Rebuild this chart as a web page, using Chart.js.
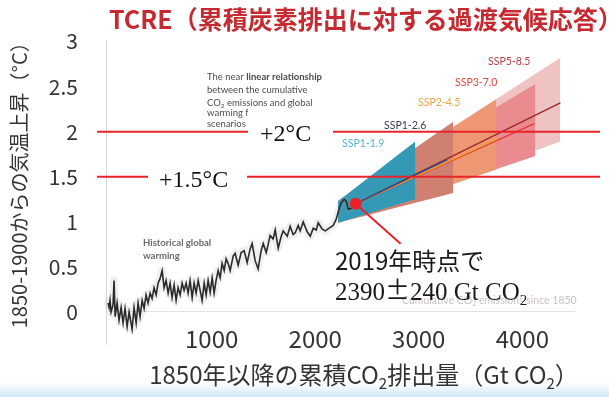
<!DOCTYPE html>
<html>
<head>
<meta charset="utf-8">
<script src="https://cdn.jsdelivr.net/npm/chart.js@4/dist/chart.umd.min.js"></script>
<style>
  html, body { margin: 0; padding: 0; background: #fff; }
  #c { display: block; }
</style>
</head>
<body>
<canvas id="c" width="609" height="397"></canvas>
<script>
// Observed warming against cumulative CO2 emissions since 1850
const histCum = [0,10,19,29,48,58,68,87,106,126,145,164,184,203,232,251,271,290,309,329,348,367,386,406,425,444,464,483,502,522,541,560,580,599,618,638,657,676,696,715,734,754,773,792,812,831,850,870,889,908,928,947,966,986,1005,1024,1043,1063,1082,1101,1121,1140,1159,1179,1208,1227,1256,1285,1314,1343,1372,1391,1420,1449,1478,1498,1527,1546,1565,1594,1614,1643,1672,1691,1730,1758,1787,1807,1836,1855,1884,1923,1952,1981,2010,2029,2068,2097,2135,2174,2203,2232,2251,2280,2300,2319,2348,2390];
const histTemp = [0.10,0.05,0.13,0.00,0.08,0.35,-0.05,0.10,-0.09,0.05,-0.12,0.04,-0.16,0.00,-0.19,0.05,-0.12,0.10,-0.05,0.13,0.04,0.19,0.10,0.21,0.15,0.27,0.19,0.32,0.37,0.46,0.27,0.35,0.21,0.32,0.16,0.30,0.13,0.27,0.19,0.32,0.24,0.32,0.21,0.35,0.16,0.32,0.21,0.35,0.24,0.13,0.32,0.19,0.35,0.22,0.38,0.21,0.35,0.46,0.38,0.54,0.46,0.59,0.54,0.46,0.62,0.65,0.52,0.66,0.68,0.55,0.70,0.76,0.57,0.48,0.68,0.76,0.66,0.75,0.85,0.81,0.91,0.71,0.84,0.90,0.84,0.95,0.86,0.88,0.96,0.90,1.00,0.89,0.84,0.93,0.91,0.99,0.92,0.90,0.93,0.96,1.03,1.15,1.21,1.25,1.23,1.14,1.15,1.20];

// Scenario plumes (cumulative emissions to 2100 and warming range)
const scenarioNames = ['SSP1-1.9', 'SSP1-2.6', 'SSP2-4.5', 'SSP3-7.0', 'SSP5-8.5'];
const plumeStartCum = 2220;
const plumeStartTop = 1.23;
const plumeStartBottom = 0.99;
const plumeEndCum = [2966, 3333, 3749, 4126, 4367];
const plumeEndTop = [1.89, 2.11, 2.36, 2.53, 2.82];
const plumeEndBottom = [1.25, 1.32, 1.58, 1.73, 1.89];
// Central estimates (no separate line for SSP1-1.9)
const medianEndCum = [null, 3275, 3758, 4116, 4367];
const medianEndTemp = [null, 1.69, 1.92, 2.09, 2.32];

// 2019 status
const point2019Cum = 2390;
const point2019Temp = 1.2;

// Warming levels marked across the plot
const thresholds = [2, 1.5];
const thresholdLabels = ['+2°C', '+1.5°C'];

const xTicks = [1000, 2000, 3000, 4000];
const yTicks = [0, 0.5, 1, 1.5, 2, 2.5, 3];

const JP = '"Noto Sans CJK JP", "Noto Sans", sans-serif';
const SERIF = '"Liberation Serif", "DejaVu Serif", serif';
const LATO = 'Lato, "Open Sans", sans-serif';

const plumeColors = ['#3399b5', '#cf8070', '#ee9873', '#ea8b8f', '#f0c3c3'];
const medianColors = [null, '#2b4c8c', '#f0a030', '#e53a3a', '#9e2a2b'];
const labelColors = ['#58b4cf', '#3c3c50', '#eba64a', '#e0483f', '#b8413f'];

const datasets = [];
datasets.push({
  label: 'historical', data: histCum.map((v, i) => ({ x: v, y: histTemp[i] })),
  borderColor: '#2b2b2b', borderWidth: 1.6, pointRadius: 0, fill: false, clip: false, order: 0
});
datasets.push({
  label: 'historical band', data: histCum.map((v, i) => ({ x: v, y: histTemp[i] })),
  borderColor: 'rgba(150,150,150,0.14)', borderWidth: 8, borderJoinStyle: 'round', borderCapStyle: 'round',
  pointRadius: 0, fill: false, clip: false, order: 1
});
scenarioNames.forEach((name, i) => {
  if (medianEndCum[i] === null) return;
  datasets.push({
    label: name + ' central',
    data: [{ x: point2019Cum, y: point2019Temp }, { x: medianEndCum[i], y: medianEndTemp[i] }],
    borderColor: medianColors[i], borderWidth: 1.5, pointRadius: 0, fill: false, order: 2 + i
  });
});
scenarioNames.forEach((name, i) => {
  datasets.push({
    label: name + ' upper',
    data: [{ x: plumeStartCum, y: plumeStartTop }, { x: plumeEndCum[i], y: plumeEndTop[i] }],
    borderWidth: 0, pointRadius: 0, backgroundColor: plumeColors[i], fill: '+1', order: 10 + 2 * i
  });
  datasets.push({
    label: name + ' lower',
    data: [{ x: plumeStartCum, y: plumeStartBottom }, { x: plumeEndCum[i], y: plumeEndBottom[i] }],
    borderWidth: 0, pointRadius: 0, fill: false, order: 10 + 2 * i
  });
});

// text made of pieces, some set as subscripts
function drawPieces(c, pieces, x, baseline, align) {
  let total = 0;
  pieces.forEach(p => { c.font = p.font; p.w = c.measureText(p.t).width; total += p.w; });
  let cx = align === 'center' ? x - total / 2 : x;
  c.textAlign = 'left';
  c.textBaseline = 'alphabetic';
  pieces.forEach(p => {
    c.font = p.font;
    c.fillText(p.t, cx, baseline + (p.dy || 0));
    cx += p.w;
  });
}

const decor = {
  id: 'decor',
  beforeDraw(chart) {
    const c = chart.ctx;
    c.save();
    c.fillStyle = '#fff';
    c.fillRect(0, 0, chart.width, chart.height);
    const g = c.createLinearGradient(0, 382, 0, 397);
    g.addColorStop(0, 'rgba(190,220,240,0)');
    g.addColorStop(1, 'rgba(165,208,234,0.55)');
    c.fillStyle = g;
    c.fillRect(0, 382, chart.width, 15);
    c.restore();
  },
  beforeDatasetsDraw(chart) {
    const { ctx: c, chartArea: a, scales: { x, y } } = chart;
    c.save();
    // frame of the inner figure
    c.strokeStyle = '#d6d6d6';
    c.lineWidth = 1;
    c.beginPath();
    c.moveTo(Math.round(a.left) + 0.5, a.top);
    c.lineTo(Math.round(a.left) + 0.5, 345);
    c.stroke();
    c.strokeStyle = '#e3e3e3';
    c.beginPath();
    c.moveTo(x.getPixelForValue(0), Math.round(y.getPixelForValue(0)) - 0.5);
    c.lineTo(x.getPixelForValue(4510), Math.round(y.getPixelForValue(0)) - 0.5);
    c.stroke();

    // explanatory note
    c.fillStyle = '#4d4d4d';
    c.textBaseline = 'middle';
    c.textAlign = 'left';
    c.font = '9.5px ' + LATO;
    c.fillText('The near ', 207, 77);
    const w0 = c.measureText('The near ').width;
    c.font = 'bold 9.5px ' + LATO;
    c.fillText('linear relationship', 207 + w0, 77);
    c.font = '9.5px ' + LATO;
    c.fillText('between the cumulative', 207, 90);
    drawPieces(c, [
      { t: 'CO', font: '9.5px ' + LATO },
      { t: '2', font: '6.5px ' + LATO, dy: 2 },
      { t: ' emissions and global', font: '9.5px ' + LATO }
    ], 207, 105.5, 'left');
    c.textBaseline = 'middle';
    c.font = '9.5px ' + LATO;
    c.fillText('warming for five illustrative', 207, 113);
    c.fillText('scenarios', 207, 124);

    c.fillStyle = '#6a6a6a';
    c.font = 'bold 9.5px ' + LATO;
    c.fillText('Historical global', 143, 243);
    c.fillText('warming', 143, 256);

    c.fillStyle = '#cbc3c3';
    drawPieces(c, [
      { t: 'Cumulative CO', font: '10.5px ' + LATO },
      { t: '2', font: '7px ' + LATO, dy: 2 },
      { t: ' emissions since 1850', font: '10.5px ' + LATO }
    ], 402, 304, 'left');
    c.restore();
  },
  afterDatasetsDraw(chart) {
    const { ctx: c, chartArea: a, scales: { x, y } } = chart;
    c.save();
    // scenario names
    const labelPos = [[342, 144], [384, 126], [418, 103], [455, 83], [488, 62]];
    c.font = '10.5px ' + LATO;
    c.textBaseline = 'middle';
    c.textAlign = 'left';
    scenarioNames.forEach((n, i) => {
      c.fillStyle = labelColors[i];
      c.fillText(n, labelPos[i][0], labelPos[i][1]);
    });

    // warming-level lines
    c.strokeStyle = '#e8232a';
    c.lineWidth = 2;
    thresholds.forEach(t => {
      const py = y.getPixelForValue(t);
      c.beginPath();
      c.moveTo(a.left - 9, py);
      c.lineTo(a.right, py);
      c.stroke();
    });
    // label boxes
    const py2 = y.getPixelForValue(thresholds[0]);
    const py15 = y.getPixelForValue(thresholds[1]);
    c.fillStyle = '#fff';
    c.fillRect(248, py2 - 24, 85, 44);
    c.fillRect(148, py15 - 15, 99, 32);
    c.fillStyle = '#111';
    c.font = '24px ' + SERIF;
    c.textBaseline = 'alphabetic';
    c.fillText(thresholdLabels[0], 260, py2 + 9);
    c.fillText(thresholdLabels[1], 159, py15 + 10.5);

    // 2019 marker
    const dx = x.getPixelForValue(point2019Cum);
    const dy = y.getPixelForValue(point2019Temp);
    c.strokeStyle = '#e8232a';
    c.lineWidth = 2;
    c.beginPath();
    c.moveTo(dx, dy);
    c.lineTo(dx + 45, dy + 40);
    c.stroke();
    c.fillStyle = '#e8232a';
    c.beginPath();
    c.arc(dx, dy, 6, 0, Math.PI * 2);
    c.fill();

    c.fillStyle = '#1a1a1a';
    c.font = '24px ' + JP;
    c.textBaseline = 'alphabetic';
    c.fillText('2019年時点で', 335, 270);
    drawPieces(c, [
      { t: '2390', font: '25px ' + SERIF },
      { t: '±', font: '25px ' + JP, dy: -1 },
      { t: '240 Gt CO', font: '25px ' + SERIF },
      { t: '2', font: '15px ' + SERIF, dy: 5 }
    ], 335, 300, 'left');
    c.restore();
  },
  afterDraw(chart) {
    const c = chart.ctx;
    c.save();
    c.fillStyle = '#c62a30';
    c.font = 'bold 25px ' + JP;
    c.textAlign = 'left';
    c.textBaseline = 'middle';
    c.fillText('TCRE（累積炭素排出に対する過渡気候応答）', 109, 19);

    c.fillStyle = '#333';
    drawPieces(c, [
      { t: '1850年以降の累積CO', font: '24px ' + JP },
      { t: '2', font: '15px ' + JP, dy: 5 },
      { t: '排出量（Gt CO', font: '24px ' + JP },
      { t: '2', font: '15px ' + JP, dy: 5 },
      { t: '）', font: '24px ' + JP }
    ], 364, 384, 'center');
    c.restore();
  }
};

new Chart(document.getElementById('c'), {
  type: 'line',
  data: { datasets },
  options: {
    responsive: false,
    animation: false,
    devicePixelRatio: 1,
    layout: { padding: { top: 38, right: 9, left: 0, bottom: 0 } },
    plugins: { legend: { display: false }, tooltip: { enabled: false }, title: { display: false } },
    elements: { line: { tension: 0 } },
    scales: {
      x: {
        type: 'linear', min: -20, max: 4750,
        afterBuildTicks: s => { s.ticks = xTicks.map(v => ({ value: v })); },
        afterFit: s => { s.height = 77; },
        grid: { display: false, drawTicks: false },
        border: { display: false },
        ticks: { color: '#333', padding: 4, font: { family: JP, size: 24 }, callback: v => String(v), maxRotation: 0 }
      },
      y: {
        type: 'linear', min: -0.088, max: 3.01,
        afterBuildTicks: s => { s.ticks = yTicks.map(v => ({ value: v })); },
        afterFit: s => { s.width = 106; },
        grid: { display: false, drawTicks: false },
        border: { display: false },
        ticks: { color: '#333', padding: 28, font: { family: JP, size: 21 }, callback: v => String(v) },
        title: {
          display: true, text: '1850-1900からの気温上昇（°C）', color: '#333',
          font: { family: JP, size: 20 }, padding: { top: 7, bottom: 0 }
        }
      }
    }
  },
  plugins: [decor]
});
</script>
</body>
</html>
